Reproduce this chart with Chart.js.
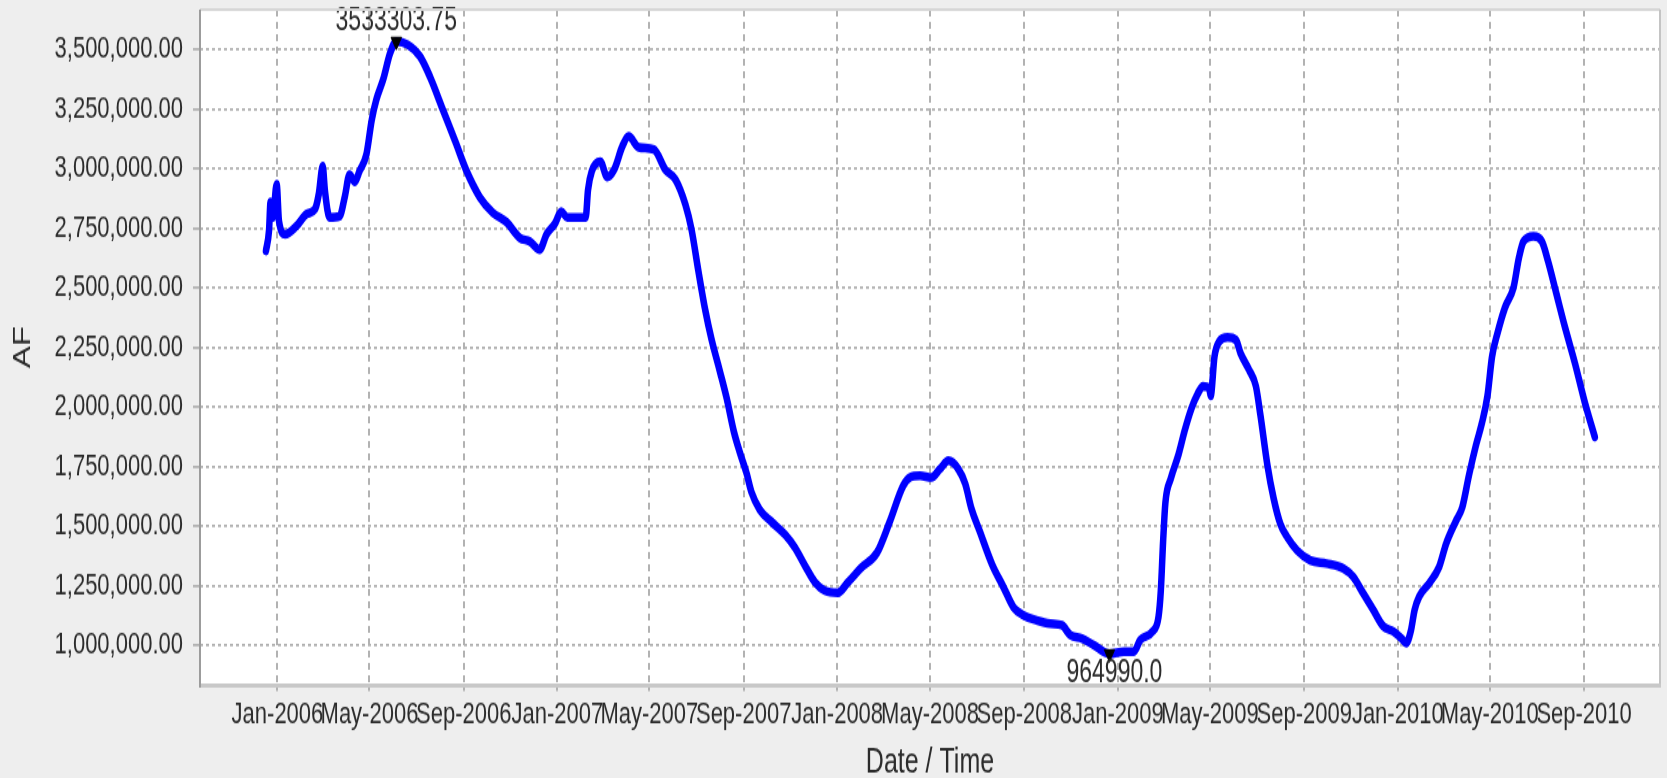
<!DOCTYPE html>
<html>
<head>
<meta charset="utf-8">
<title>AF - Date / Time</title>
<script src="https://cdn.jsdelivr.net/npm/chart.js@4.4.1/dist/chart.umd.min.js"></script>
<style>
  html, body { margin: 0; padding: 0; background: #eeeeee; }
  #chart { display: block; }
</style>
</head>
<body>
<!-- drawn at a lower height and stretched, like the original screenshot -->
<canvas id="chart" width="1667" height="568" style="width:1667px;height:778px"></canvas>
<script>
// Data
const dates = [
  '2005-12-17', '2005-12-21', '2005-12-23', '2005-12-26', '2005-12-31', '2006-01-03', '2006-01-11',
  '2006-01-26', '2006-02-08', '2006-02-19', '2006-02-24', '2006-03-01', '2006-03-04', '2006-03-10',
  '2006-03-23', '2006-03-30', '2006-04-05', '2006-04-12', '2006-04-18', '2006-04-27', '2006-05-04',
  '2006-05-10', '2006-05-19', '2006-05-28', '2006-06-05', '2006-06-20', '2006-07-06', '2006-07-19',
  '2006-08-05', '2006-08-22', '2006-09-04', '2006-09-22', '2006-10-09', '2006-10-27', '2006-11-13',
  '2006-11-26', '2006-12-09', '2006-12-18', '2006-12-29', '2007-01-06', '2007-01-14', '2007-02-07',
  '2007-02-10', '2007-02-15', '2007-02-26', '2007-03-07', '2007-03-16', '2007-03-27', '2007-04-04',
  '2007-04-17', '2007-05-07', '2007-05-22', '2007-06-04', '2007-06-17', '2007-06-25', '2007-07-04',
  '2007-07-13', '2007-07-21', '2007-08-01', '2007-08-10', '2007-08-19', '2007-08-27', '2007-09-05',
  '2007-09-11', '2007-09-22', '2007-10-07', '2007-10-25', '2007-11-07', '2007-11-20', '2007-12-03',
  '2007-12-16', '2008-01-02', '2008-01-15', '2008-02-01', '2008-02-22', '2008-03-09', '2008-03-27',
  '2008-04-05', '2008-04-18', '2008-05-03', '2008-05-14', '2008-05-25', '2008-06-07', '2008-06-16',
  '2008-06-24', '2008-07-05', '2008-07-21', '2008-08-05', '2008-08-18', '2008-08-31', '2008-09-17',
  '2008-10-05', '2008-10-20', '2008-10-31', '2008-11-15', '2008-11-30', '2008-12-21', '2009-01-09',
  '2009-01-22', '2009-01-30', '2009-02-15', '2009-02-23', '2009-02-26', '2009-03-01', '2009-03-04',
  '2009-03-11', '2009-03-21', '2009-03-29', '2009-04-07', '2009-04-15', '2009-04-22', '2009-04-30',
  '2009-05-02', '2009-05-07', '2009-05-13', '2009-05-24', '2009-06-04', '2009-06-10', '2009-06-21',
  '2009-06-30', '2009-07-06', '2009-07-15', '2009-07-23', '2009-08-01', '2009-08-10', '2009-08-23',
  '2009-09-09', '2009-09-30', '2009-10-22', '2009-11-04', '2009-11-17', '2009-11-30', '2009-12-13',
  '2009-12-26', '2010-01-06', '2010-01-12', '2010-01-18', '2010-01-23', '2010-01-29', '2010-02-11',
  '2010-02-24', '2010-03-05', '2010-03-18', '2010-03-26', '2010-04-04', '2010-04-13', '2010-04-21',
  '2010-04-28', '2010-05-04', '2010-05-11', '2010-05-21', '2010-06-01', '2010-06-08', '2010-06-14',
  '2010-06-27', '2010-07-08', '2010-07-16', '2010-07-27', '2010-08-07', '2010-08-20', '2010-09-02',
  '2010-09-15'
];
const volumes = [
  2655000, 2740000, 2860000, 2795000, 2935000, 2780000, 2725000,
  2760000, 2810000, 2830000, 2895000, 3010000, 2905000, 2795000,
  2800000, 2885000, 2975000, 2945000, 2990000, 3060000, 3205000,
  3290000, 3375000, 3485000, 3533303.75, 3520000, 3470000, 3385000,
  3245000, 3105000, 2995000, 2880000, 2815000, 2775000, 2710000,
  2695000, 2660000, 2725000, 2770000, 2820000, 2795000, 2795000,
  2910000, 2990000, 3030000, 2965000, 2995000, 3095000, 3135000,
  3090000, 3080000, 2995000, 2955000, 2850000, 2745000, 2570000,
  2405000, 2285000, 2150000, 2035000, 1900000, 1810000, 1720000,
  1645000, 1570000, 1520000, 1465000, 1410000, 1335000, 1265000,
  1230000, 1222000, 1265000, 1325000, 1390000, 1515000, 1670000,
  1705000, 1712000, 1705000, 1740000, 1775000, 1740000, 1678000,
  1575000, 1478000, 1340000, 1244000, 1160000, 1127000, 1106000,
  1092000, 1085000, 1044000, 1030000, 1003000, 964990.0, 975000,
  975000, 1023000, 1058000, 1120000, 1230000, 1437000, 1600000,
  1700000, 1800000, 1900000, 1995000, 2055000, 2088000, 2081000,
  2047000, 2212000, 2274000, 2292000, 2281000, 2226000, 2157000,
  2088000, 1964000, 1757000, 1619000, 1509000, 1454000, 1398000,
  1357000, 1344000, 1323000, 1288000, 1219000, 1150000, 1081000,
  1060000, 1030000, 1010000, 1060000, 1150000, 1206000, 1261000,
  1330000, 1426000, 1523000, 1578000, 1716000, 1840000, 1936000,
  2047000, 2212000, 2309000, 2419000, 2502000, 2626000, 2695000,
  2716000, 2695000, 2612000, 2474000, 2336000, 2185000, 2019000,
  1875000
];

const tickDates = [
  '2006-01-01', '2006-05-01', '2006-09-01', '2007-01-01', '2007-05-01', '2007-09-01', '2008-01-01',
  '2008-05-01', '2008-09-01', '2009-01-01', '2009-05-01', '2009-09-01', '2010-01-01', '2010-05-01',
  '2010-09-01'
];
const tickLabels = [
  'Jan-2006', 'May-2006', 'Sep-2006', 'Jan-2007', 'May-2007', 'Sep-2007', 'Jan-2008',
  'May-2008', 'Sep-2008', 'Jan-2009', 'May-2009', 'Sep-2009', 'Jan-2010', 'May-2010',
  'Sep-2010'
];
const yTicks = [1000000, 1250000, 1500000, 1750000, 2000000, 2250000, 2500000, 2750000, 3000000, 3250000, 3500000];
const xRange = ['2005-09-22', '2010-12-09'];
const yRange = [835000, 3667000];

// max / min markers
const markDates = ['2006-06-05', '2008-12-21'];
const markValues = [3533303.75, 964990.0];
const markTexts = ['3533303.75', '964990.0'];

const FONT = "'Liberation Sans', Arial, sans-serif";
const TEXT = '#2b2b2b';
const GRID = '#b2b2b2';

const DAY = 86400000;
const day0 = Date.UTC(2006, 0, 1);
function toDay(s) {
  const [y, m, d] = s.split('-').map(Number);
  return (Date.UTC(y, m - 1, d) - day0) / DAY;
}
const tickDays = tickDates.map(toDay);

const frame = {
  id: 'frame',
  beforeDraw(chart) {
    const { ctx, chartArea: a } = chart;
    ctx.save();
    ctx.fillStyle = '#eeeeee';
    ctx.fillRect(0, 0, chart.width, chart.height);
    ctx.fillStyle = '#ffffff';
    ctx.fillRect(a.left, a.top, a.right - a.left, a.bottom - a.top);
    ctx.restore();
  },
  afterDraw(chart) {
    const { ctx, chartArea: a } = chart;
    ctx.save();
    ctx.lineWidth = 2;
    ctx.strokeStyle = '#d6d6d6';
    ctx.beginPath();
    ctx.moveTo(a.left, a.top); ctx.lineTo(a.right, a.top);
    ctx.stroke();
    ctx.strokeStyle = '#c4c4c4';
    ctx.beginPath();
    ctx.moveTo(a.right, a.top); ctx.lineTo(a.right, a.bottom);
    ctx.stroke();
    ctx.strokeStyle = '#c8c8c8';
    ctx.lineWidth = 3;
    ctx.beginPath();
    ctx.moveTo(a.left, a.bottom + 0.5); ctx.lineTo(a.right + 1, a.bottom + 0.5);
    ctx.stroke();
    ctx.strokeStyle = '#9c9c9c';
    ctx.lineWidth = 2;
    ctx.beginPath();
    ctx.moveTo(a.left, a.top); ctx.lineTo(a.left, a.bottom + 2);
    ctx.stroke();
    ctx.restore();
  }
};

const markLabels = {
  id: 'markLabels',
  afterDatasetsDraw(chart) {
    const { ctx } = chart;
    const meta = chart.getDatasetMeta(1);
    ctx.save();
    ctx.font = '23px ' + FONT;
    ctx.fillStyle = TEXT;
    ctx.textAlign = 'center';
    ctx.textBaseline = 'middle';
    meta.data.forEach((pt, i) => {
      const above = i === 0;
      ctx.fillText(markTexts[i], pt.x + (above ? 0 : 5), above ? pt.y - 14.5 : pt.y + 14.5);
    });
    ctx.restore();
  }
};

new Chart(document.getElementById('chart'), {
  type: 'line',
  data: {
    datasets: [{
      data: dates.map((d, i) => ({ x: toDay(d), y: volumes[i] })),
      order: 1,
      borderColor: '#0000ff',
      borderWidth: 6.5,
      borderJoinStyle: 'round',
      borderCapStyle: 'round',
      cubicInterpolationMode: 'monotone',
      pointRadius: 0,
      fill: false
    }, {
      data: markDates.map((d, i) => ({ x: toDay(d), y: markValues[i] })),
      order: 0,
      showLine: false,
      pointStyle: 'triangle',
      rotation: 180,
      pointRadius: 6,
      backgroundColor: '#000000',
      borderColor: '#000000'
    }]
  },
  options: {
    responsive: false,
    devicePixelRatio: 1,
    animation: false,
    layout: { padding: { top: 3.6, right: 2, left: 0, bottom: 0 } },
    plugins: { legend: { display: false }, tooltip: { enabled: false } },
    scales: {
      x: {
        type: 'linear',
        min: toDay(xRange[0]),
        max: toDay(xRange[1]),
        afterBuildTicks: s => { s.ticks = tickDays.map(v => ({ value: v })); },
        afterFit: s => { s.height = 68; s.paddingLeft = 0; s.paddingRight = 0; },
        ticks: {
          autoSkip: false,
          maxRotation: 0,
          padding: 4,
          color: TEXT,
          font: { family: FONT, size: 22 },
          callback: v => tickLabels[tickDays.indexOf(v)]
        },
        grid: { color: GRID, lineWidth: 2, tickLength: 4.5 },
        border: { display: false, dash: [5, 4] },
        title: {
          display: true,
          text: 'Date / Time',
          color: TEXT,
          font: { family: FONT, size: 25, lineHeight: 0.9 },
          padding: { top: 0, bottom: 0 }
        }
      },
      y: {
        min: yRange[0],
        max: yRange[1],
        afterBuildTicks: s => { s.ticks = yTicks.map(v => ({ value: v })); },
        afterFit: s => { s.width = 200; s.paddingTop = 0; s.paddingBottom = 0; },
        ticks: {
          padding: 10,
          color: TEXT,
          font: { family: FONT, size: 22 },
          callback: v => v.toLocaleString('en-US', { minimumFractionDigits: 2, maximumFractionDigits: 2 })
        },
        grid: { color: GRID, lineWidth: 1.8, tickLength: 7 },
        border: { display: false, dash: [3, 3] },
        title: {
          display: true,
          text: 'AF',
          color: TEXT,
          font: { family: FONT, size: 24, lineHeight: 1.2 },
          padding: { top: 8.6, bottom: 0 }
        }
      }
    }
  },
  plugins: [frame, markLabels]
});
</script>
</body>
</html>
